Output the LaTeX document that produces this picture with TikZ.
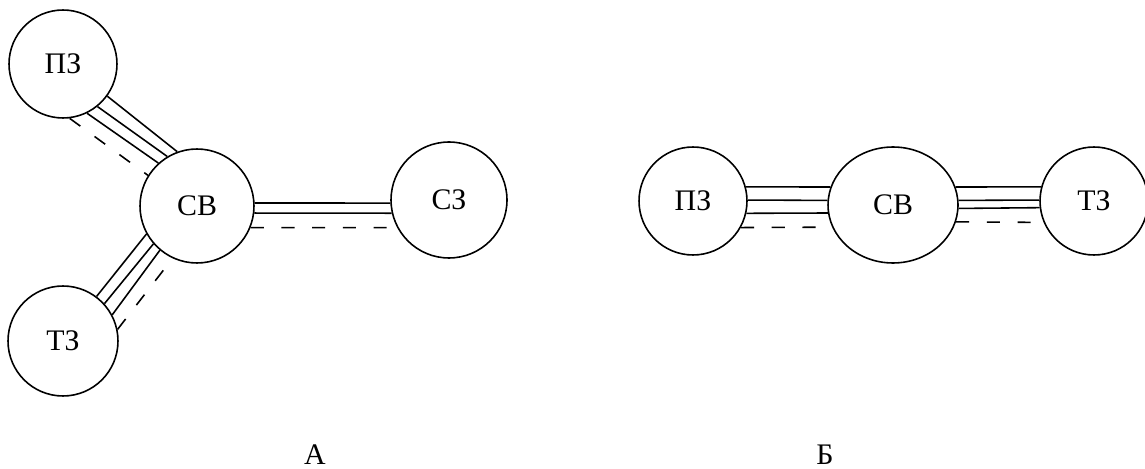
\documentclass[tikz,border=0pt]{standalone}
\usepackage{fontspec}
\setmainfont{Liberation Serif}
\usetikzlibrary{shapes.geometric}
\tikzset{
zone/.style={circle, draw, line width=0.9pt, inner sep=0pt, font=\fontsize{17}{20}\selectfont}, % every zone is a ring with its name
link/.style={line width=0.9pt}, % a full connection
weak/.style={line width=0.9pt, dash pattern=on 7.5pt off 10pt}, % the dashed connection
tag/.style={anchor=base, font=\fontsize{17}{20}\selectfont}, % caption under each scheme
}

\begin{document}
\begin{tikzpicture}[x=0.02cm, y=-0.02cm]
\useasboundingbox (0,0) rectangle (1145,469);
% scheme A
\node[zone, minimum size=2.16cm] at (63, 64) (PZa) {ПЗ};
\node[zone, minimum size=2.28cm] at (197, 206) (SVa) {СВ};
\node[zone, minimum size=2.2cm] at (63, 341) (TZa) {ТЗ};
\node[zone, minimum size=2.32cm] at (449, 200) (SZa) {СЗ};
\draw[link] (PZa.-36) -- (SVa.110);
\draw[link] (PZa.-51) -- (SVa.121);
\draw[link] (PZa.-64) -- (SVa.132);
\draw[weak] (PZa.-83) -- (SVa.148);
\draw[link] (TZa.53) -- (SVa.209);
\draw[link] (TZa.42) -- (SVa.221);
\draw[link] (TZa.28) -- (SVa.230);
\draw[weak] (TZa.12) -- (SVa.245);
\draw[link] (SVa.3) -- (SZa.183);
\draw[link] (SVa.-7) -- (SZa.193);
\draw[weak] (SVa.-22) -- (SZa.208);
\node[tag] at (315, 464) (LA) {А};

% scheme B
\node[zone, minimum size=2.16cm] at (693, 201) (PZb) {ПЗ};
\node[zone, ellipse, minimum width=2.6cm, minimum height=2.32cm] at (893, 205) (SVb) {СВ};
\node[zone, minimum size=2.16cm] at (1094, 201) (TZb) {ТЗ};
\draw[link] (PZb.15) -- (SVb.164);
\draw[link] (PZb.1) -- (SVb.176);
\draw[link] (PZb.-13) -- (SVb.187);
\draw[weak] (PZb.-29) -- (SVb.200);
\draw[link] (SVb.16) -- (TZb.165);
\draw[link] (SVb.4) -- (TZb.179);
\draw[link] (SVb.-3) -- (TZb.187);
\draw[weak] (SVb.-15) -- (TZb.203);
\node[tag] at (825, 464) (LB) {Б};

\end{tikzpicture}
\end{document}
